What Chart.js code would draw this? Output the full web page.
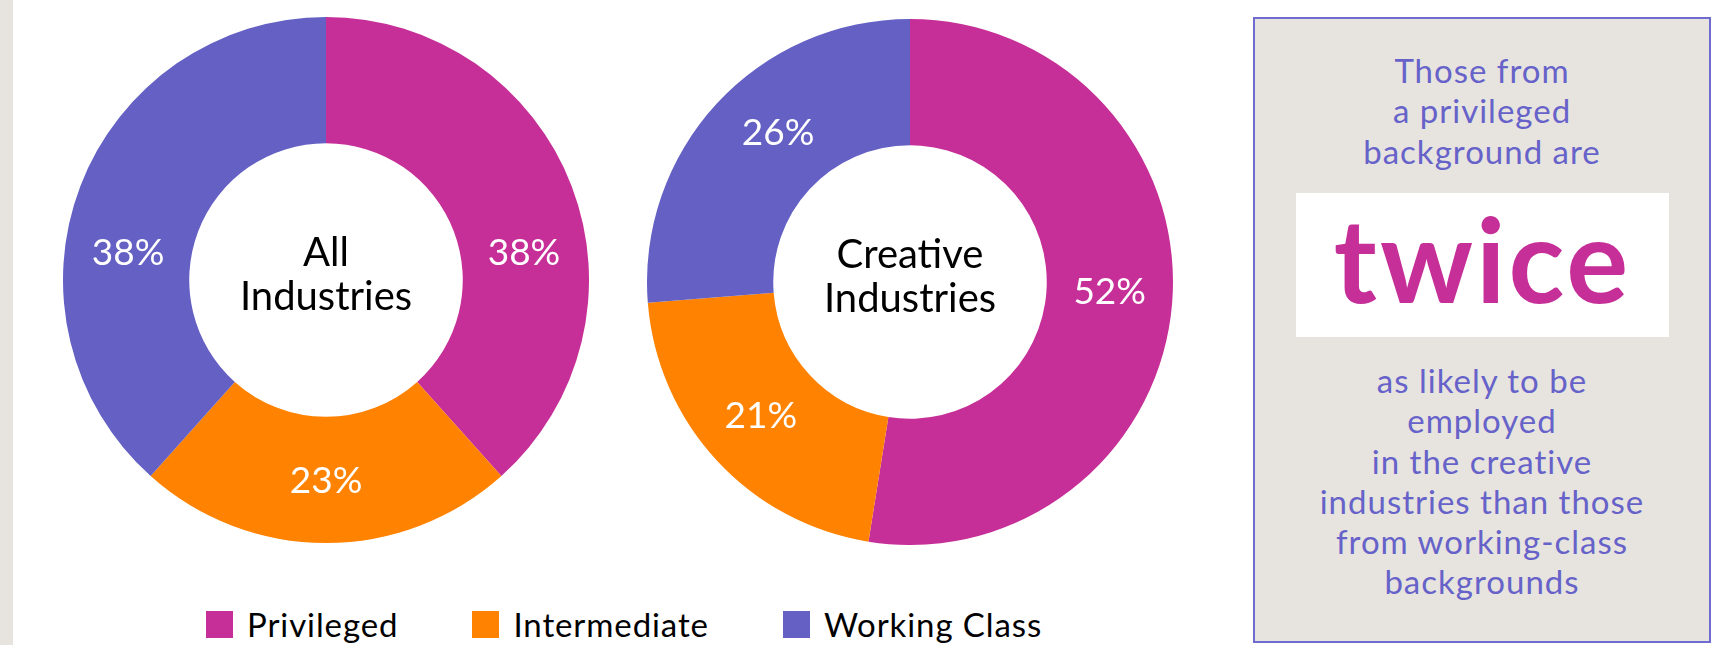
<!DOCTYPE html>
<html>
<head>
<meta charset="utf-8">
<title>Privileged background in the creative industries</title>
<script src="https://cdn.jsdelivr.net/npm/chart.js@4.4.0/dist/chart.umd.min.js"></script>
<style>
  html, body { margin: 0; padding: 0; background: #fff; }
  body { width: 1726px; height: 645px; position: relative; overflow: hidden; font-family: Lato, sans-serif; }
  .strip { position: absolute; left: 0; top: 0; width: 13px; height: 645px; background: #e7e4df; }
  .pie { position: absolute; width: 526px; height: 526px; }
  #pieAll { left: 63px; top: 17px; }
  #pieCreative { left: 647px; top: 19px; }

  #legend { position: absolute; left: 206px; top: 611px; display: flex; }
  #legend .item { display: flex; align-items: center; margin-right: 74px; font-size: 33px; line-height: 27px; color: #000; letter-spacing: 0.9px; }
  #legend .swatch { width: 27px; height: 27px; margin-right: 14px; }

  .callout { position: absolute; left: 1253px; top: 17px; width: 454px; height: 622px;
             border: 2px solid #6f6bd0; background: #e7e4df; color: #6662c9; text-align: center; }
  .callout .lines { position: absolute; left: 0; width: 100%; font-size: 33px; line-height: 40.3px; letter-spacing: 1px; }
  .callout .top { top: 31px; }
  .callout .bottom { top: 341px; }
  .callout .badge { position: absolute; left: 41px; top: 174px; width: 373px; height: 144px; background: #fff; }
  .callout .badge span { position: absolute; left: 0; top: 8px; width: 100%; font-size: 116px; line-height: 115px;
                         font-weight: 700; color: #c62e98; letter-spacing: 3px; }
</style>
</head>
<body>
<div class="strip"></div>
<div class="pie" id="pieAll"><canvas id="chartAll"></canvas></div>
<div class="pie" id="pieCreative"><canvas id="chartCreative"></canvas></div>
<div id="legend"></div>

<div class="callout">
  <div class="lines top">Those from<br>a privileged<br>background are</div>
  <div class="badge"><span>twice</span></div>
  <div class="lines bottom">as likely to be<br>employed<br>in the creative<br>industries than those<br>from working-class<br>backgrounds</div>
</div>

<script>
const categories = ['Privileged', 'Intermediate', 'Working Class'];
const allIndustries = [38, 23, 38];
const creativeIndustries = [52, 21, 26];
const sliceColours = ['#c62e98', '#ff8300', '#6460c4'];
const allTitle = ['All', 'Industries'];
const creativeTitle = ['Creative', 'Industries'];

// percentage inside each slice + two-line title in the hole
const sliceLabels = {
  id: 'sliceLabels',
  afterDatasetsDraw(chart, args, opts) {
    const ctx = chart.ctx;
    const meta = chart.getDatasetMeta(0);
    const values = chart.data.datasets[0].data;
    ctx.save();
    ctx.font = '37px Lato';
    ctx.fillStyle = '#fff';
    ctx.textAlign = 'center';
    ctx.textBaseline = 'alphabetic';
    meta.data.forEach((arc, i) => {
      const p = arc.getProps(['x', 'y', 'startAngle', 'endAngle', 'innerRadius', 'outerRadius'], true);
      const shift = (opts.nudge ? opts.nudge[i] : 0) * Math.PI / 180;
      const a = (p.startAngle + p.endAngle) / 2 + shift;
      const r = (p.innerRadius + p.outerRadius) / 2;
      ctx.fillText(values[i] + '%', p.x + Math.cos(a) * r, p.y + Math.sin(a) * r + 13);
    });

    const cx = (chart.chartArea.left + chart.chartArea.right) / 2;
    const cy = (chart.chartArea.top + chart.chartArea.bottom) / 2;
    ctx.font = '40px Lato';
    ctx.fillStyle = '#000';
    (opts.title || []).forEach((line, i) => {
      ctx.fillText(line, cx, cy - 14 + i * 44);
    });
    ctx.restore();
  }
};

function donut(id, values, title, nudge) {
  return new Chart(document.getElementById(id), {
    type: 'doughnut',
    data: {
      labels: categories,
      datasets: [{
        data: values,
        backgroundColor: sliceColours,
        borderWidth: 0
      }]
    },
    options: {
      responsive: true,
      maintainAspectRatio: false,
      animation: false,
      cutout: '52%',
      layout: { padding: 0 },
      plugins: {
        legend: { display: false },
        tooltip: { enabled: false },
        sliceLabels: { title: title, nudge: nudge }
      }
    },
    plugins: [sliceLabels]
  });
}

// shared legend under both charts
const legend = document.getElementById('legend');
categories.forEach((name, i) => {
  const item = document.createElement('div');
  item.className = 'item';
  item.innerHTML = '<span class="swatch" style="background:' + sliceColours[i] + '"></span>' + name;
  legend.appendChild(item);
});

document.fonts.load('37px Lato').then(() => {
  donut('chartAll', allIndustries, allTitle, [13, 0, -13]);
  donut('chartCreative', creativeIndustries, creativeTitle, [-2, 1, 6]);
});
</script>
</body>
</html>
